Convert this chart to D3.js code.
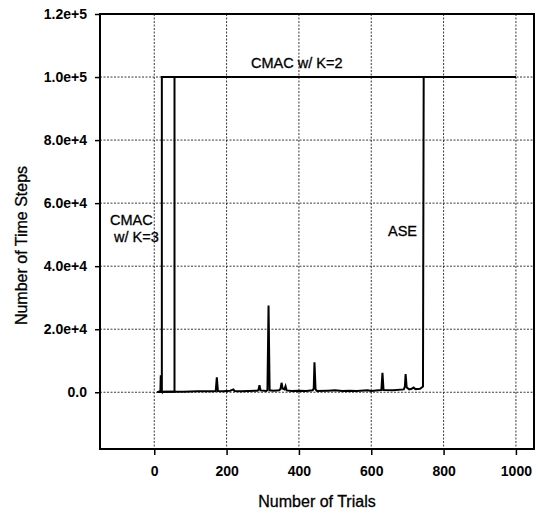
<!DOCTYPE html>
<html>
<head>
<meta charset="utf-8">
<script src="https://cdn.jsdelivr.net/npm/d3@7"></script>
<style>
    body { margin: 0; background: #fff; }
    svg { display: block; }
    text { font-family: 'Liberation Sans', Arial, sans-serif; fill: #000; }
</style>
</head>
<body>
<svg></svg>
<script>
// ticks
let xTicks = [0, 200, 400, 600, 800, 1000];
let yTicks = [0, 20000, 40000, 60000, 80000, 100000, 120000];
let yTickLabels = ['0.0', '2.0e+4', '4.0e+4', '6.0e+4', '8.0e+4', '1.0e+5', '1.2e+5'];

// CMAC w/ K=3
let k3Trials = [10, 17, 18, 19, 21, 21, 1000];
let k3Steps = [100, 300, 5400, 300, 100, 100000, 100000];

// CMAC w/ K=2
let k2Trials = [10, 30, 56, 56, 1000];
let k2Steps = [100, 200, 200, 100000, 100000];

// ASE
let aseTrials = [8, 40, 80, 120, 160, 170, 173, 176, 190, 210, 219, 222, 240, 260, 285, 288, 291, 294,
    310, 313, 316, 319, 330, 345, 349, 352, 355, 360, 363, 366, 380, 400, 420, 438, 441, 443, 446, 450,
    480, 500, 520, 540, 560, 590, 600, 620, 628, 631, 634, 660, 690, 693, 695, 698, 705, 712, 717, 722,
    735, 743, 745, 1000];
let aseSteps = [100, 150, 200, 300, 300, 400, 4700, 400, 300, 500, 900, 400, 300, 400, 500, 700, 2200, 600,
    400, 700, 27500, 600, 500, 600, 1000, 3000, 1200, 900, 1900, 600, 400, 500, 400, 600, 1200, 9500, 900, 400,
    500, 600, 400, 500, 400, 600, 400, 600, 700, 6200, 700, 600, 900, 1800, 5800, 1500, 900, 1100, 1500, 1000,
    1100, 1800, 100000, 100000];

let width = 544;
let height = 510;
let plotLeft = 100, plotRight = 534, plotTop = 14, plotBottom = 449;

let svg = d3.select('svg')
    .attr('width', width)
    .attr('height', height);

let x = d3.scaleLinear().domain([-150, 1050]).range([plotLeft, plotRight]);
let y = d3.scaleLinear().domain([-18000, 120000]).range([plotBottom, plotTop]);

// dotted grid
let grid = svg.append('g');
grid.selectAll('line.hgrid')
    .data(yTicks.slice(0, -1))
    .enter()
    .append('line')
    .attr('x1', plotLeft).attr('x2', plotRight)
    .attr('y1', d => y(d)).attr('y2', d => y(d))
    .attr('stroke', '#222')
    .attr('stroke-width', 0.9)
    .attr('stroke-dasharray', '2,1.5');
grid.selectAll('line.vgrid')
    .data(xTicks)
    .enter()
    .append('line')
    .attr('x1', d => x(d)).attr('x2', d => x(d))
    .attr('y1', plotTop).attr('y2', plotBottom)
    .attr('stroke', '#222')
    .attr('stroke-width', 0.9)
    .attr('stroke-dasharray', '2,1.5');

// axes
let yAxis = svg.append('g')
    .attr('transform', `translate(${plotLeft},0)`)
    .call(d3.axisLeft(y).tickValues(yTicks).tickSize(5).tickPadding(8)
        .tickFormat((d, i) => yTickLabels[i]));
let xAxis = svg.append('g')
    .attr('transform', `translate(0,${plotBottom})`)
    .call(d3.axisBottom(x).tickValues(xTicks).tickSize(6).tickPadding(11)
        .tickFormat(d3.format('d')));
[xAxis, yAxis].forEach(a => {
    a.select('.domain').remove();
    a.selectAll('line').attr('stroke', '#000').attr('stroke-width', 1.5);
    a.selectAll('text')
        .style('font-size', '14px')
        .style('font-weight', 'bold');
});

// lines
let line = d3.line()
    .x(d => x(d[0]))
    .y(d => y(d[1]));

let series = [
    d3.zip(aseTrials, aseSteps),
    d3.zip(k2Trials, k2Steps),
    d3.zip(k3Trials, k3Steps)
];
svg.selectAll('path.series')
    .data(series)
    .enter()
    .append('path')
    .classed('series', true)
    .attr('d', line)
    .attr('fill', 'none')
    .attr('stroke', '#000')
    .attr('stroke-width', 2)
    .attr('stroke-linejoin', 'miter');

// frame
svg.append('rect')
    .attr('x', plotLeft).attr('y', plotTop)
    .attr('width', plotRight - plotLeft).attr('height', plotBottom - plotTop)
    .attr('fill', 'none')
    .attr('stroke', '#000')
    .attr('stroke-width', 2);

// labels
let labels = [
    { text: 'CMAC w/ K=2', x: 251, y: 68 },
    { text: 'CMAC', x: 110, y: 225 },
    { text: 'w/ K=3', x: 114, y: 242 },
    { text: 'ASE', x: 388, y: 236 }
];
svg.selectAll('text.note')
    .data(labels)
    .enter()
    .append('text')
    .classed('note', true)
    .attr('x', d => d.x)
    .attr('y', d => d.y)
    .style('font-size', '14.5px')
    .style('stroke', '#000')
    .style('stroke-width', 0.3)
    .text(d => d.text);

// axis titles
svg.append('text')
    .attr('x', (plotLeft + plotRight) / 2)
    .attr('y', 507)
    .attr('text-anchor', 'middle')
    .style('font-size', '16px')
    .style('stroke', '#000')
    .style('stroke-width', 0.3)
    .text('Number of Trials');

svg.append('text')
    .attr('transform', `translate(27,${(plotTop + plotBottom) / 2 + 14}) rotate(-90)`)
    .attr('text-anchor', 'middle')
    .style('font-size', '16px')
    .style('stroke', '#000')
    .style('stroke-width', 0.3)
    .text('Number of Time Steps');
</script>
</body>
</html>
